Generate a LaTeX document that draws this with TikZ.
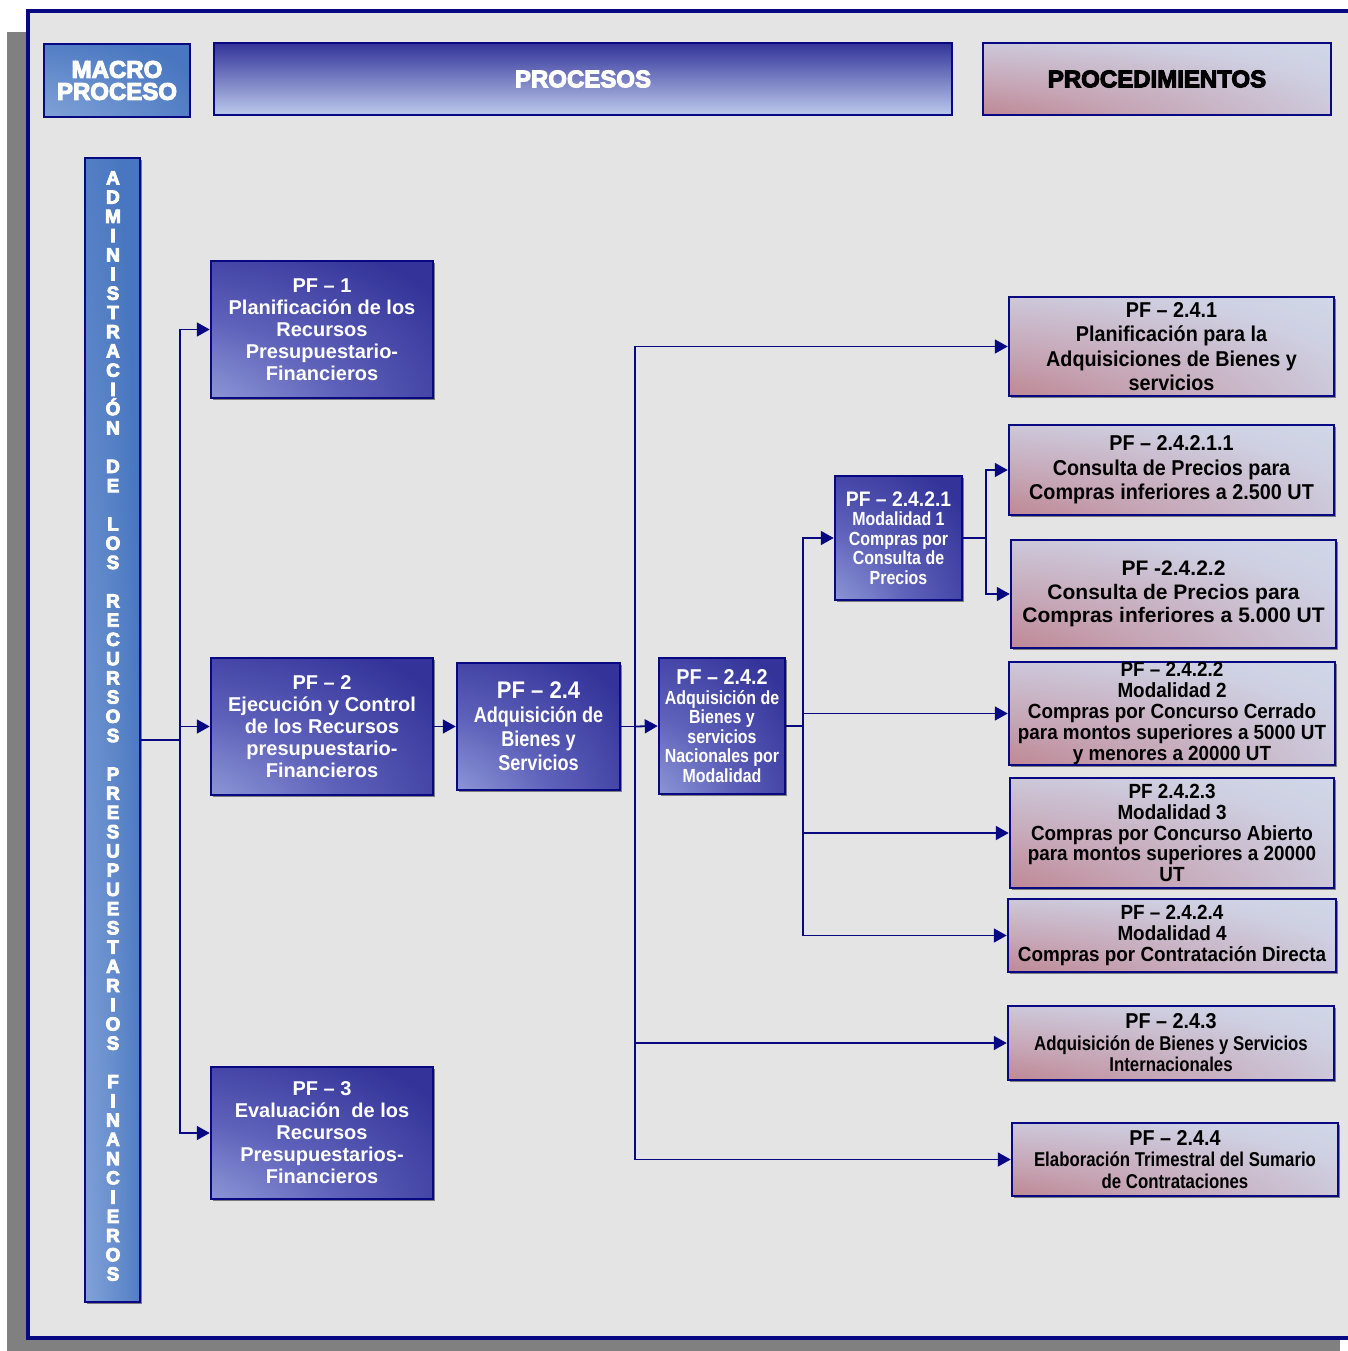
\documentclass[tikz,border=0pt]{standalone}
\usepackage{fontspec}
\setmainfont{Liberation Sans}
\newfontfamily\fA{Liberation Sans}
\newfontfamily\fB[FakeStretch=0.92]{Liberation Sans}
\newfontfamily\fC[FakeStretch=0.84]{Liberation Sans}
\newfontfamily\fH[UprightFeatures={FakeBold=4.5}, BoldFeatures={FakeBold=4.5}]{Liberation Sans}
\usetikzlibrary{arrows.meta,shadows}

\definecolor{navy}{RGB}{8,8,130}
\definecolor{bgc}{RGB}{228,228,228}
\definecolor{shd}{RGB}{128,128,128}
\definecolor{pfL}{RGB}{188,202,236}
\definecolor{pfM1}{RGB}{150,162,220}
\definecolor{pfM2}{RGB}{95,98,186}
\definecolor{pfD}{RGB}{51,51,153}
\definecolor{mbL}{RGB}{176,196,232}
\definecolor{mbM}{RGB}{120,155,212}
\definecolor{mbD}{RGB}{72,118,192}
\definecolor{prR}{RGB}{168,68,74}
\definecolor{prM1}{RGB}{186,116,126}
\definecolor{prM2}{RGB}{198,166,182}
\definecolor{prM3}{RGB}{206,208,226}
\definecolor{prL}{RGB}{210,222,238}

\pgfdeclareradialshading{pfshade}{\pgfpoint{-50bp}{-50bp}}{color(0bp)=(pfL); color(20bp)=(pfM1); color(42bp)=(pfM2); color(68bp)=(pfD); color(160bp)=(pfD)}
\pgfdeclareradialshading{mbshade}{\pgfpoint{-50bp}{-50bp}}{color(0bp)=(mbL); color(30bp)=(mbM); color(65bp)=(mbD); color(160bp)=(mbD)}
\pgfdeclareradialshading{prshade}{\pgfpoint{-50bp}{-50bp}}{color(0bp)=(prR); color(15bp)=(prM1); color(38bp)=(prM2); color(62bp)=(prM3); color(85bp)=(prL); color(160bp)=(prL)}

\tikzset{
  boxbase/.style={draw=navy, line width=2.5pt, inner sep=0pt, align=center,
    drop shadow={shadow xshift=1.5pt, shadow yshift=-2pt, fill=black, opacity=0.45}},
  hdrbox/.style={draw=navy, line width=2.5pt, inner sep=0pt, align=center,
    font=\fH\bfseries\fontsize{24}{22}\selectfont},
  pfbox/.style={boxbase, shading=pfshade, text=white},
  procbox/.style={boxbase, shading=prshade, text=black},
  pfbig/.style={font=\fA\bfseries\fontsize{20}{22}\selectfont},
  procfont/.style={font=\fB\bfseries\fontsize{21.5}{24.5}\selectfont},
  procsmall/.style={font=\fB\bfseries\fontsize{20.5}{20.8}\selectfont},
  procnarrow/.style={font=\fC\bfseries\fontsize{20}{21.5}\selectfont},
  conn/.style={draw=navy, line width=1.8pt},
  arr/.style={conn, -{Triangle[length=13pt,width=14pt]}},
}

\begin{document}
\begin{tikzpicture}[x=1pt,y=-1pt]
\useasboundingbox (0,0) rectangle (1347,1351);

% outer frame with shadow
\fill[shd] (7,32) rectangle (1340,1359);
\draw[navy, line width=4pt, fill=bgc] (28,11) rectangle (1361,1338);

% headers
\node[hdrbox, shading=mbshade, text=white, minimum width=146pt, minimum height=73pt] (macro) at (117,80.5) {MACRO\\PROCESO};
\node[hdrbox, top color=pfD, middle color=pfM2, bottom color=pfL, text=white, minimum width=738pt, minimum height=72pt] (procs) at (583,79) {PROCESOS};
\node[hdrbox, shading=prshade, text=black, minimum width=348pt, minimum height=72pt] (procd) at (1157,79) {PROCEDIMIENTOS};

% vertical bar
\node[boxbase, shading=mbshade, minimum width=55pt, minimum height=1144pt] (bar) at (112.5,730) {};
\node[text=white, align=center, inner sep=0pt, font=\fH\bfseries\fontsize{19}{19.23}\selectfont] (bartext) at (113,726)
{A\\D\\M\\I\\N\\I\\S\\T\\R\\A\\C\\I\\Ó\\N\\~\\D\\E\\~\\L\\O\\S\\~\\R\\E\\C\\U\\R\\S\\O\\S\\~\\P\\R\\E\\S\\U\\P\\U\\E\\S\\T\\A\\R\\I\\O\\S\\~\\F\\I\\N\\A\\N\\C\\I\\E\\R\\O\\S};

% process boxes
\node[pfbox, pfbig, minimum width=222pt, minimum height=137pt] (pf1) at (322,329.5)
 {PF – 1\\Planificación de los\\Recursos\\Presupuestario-\\Financieros};
\node[pfbox, pfbig, minimum width=222pt, minimum height=137pt] (pf2) at (322,726.5)
 {PF – 2\\Ejecución y Control\\de los Recursos\\presupuestario-\\Financieros};
\node[pfbox, pfbig, minimum width=222pt, minimum height=132pt] (pf3) at (322,1133)
 {PF – 3\\Evaluación\ \ de los\\Recursos\\Presupuestarios-\\Financieros};
\node[pfbox, font=\fC\bfseries\fontsize{21.5}{24}\selectfont, minimum width=163pt, minimum height=127pt] (pf24) at (538.5,726.5)
 {{\fB\fontsize{24}{24}\selectfont PF – 2.4}\\Adquisición de\\Bienes y\\Servicios};
\node[pfbox, font=\fC\bfseries\fontsize{19}{19.6}\selectfont, minimum width=126pt, minimum height=136pt] (pf242) at (722,726)
 {{\fB\fontsize{21.5}{19.6}\selectfont PF – 2.4.2}\\Adquisición de\\Bienes y\\servicios\\Nacionales por\\Modalidad};
\node[pfbox, font=\fC\bfseries\fontsize{19}{19.5}\selectfont, minimum width=127pt, minimum height=124pt] (pf2421) at (898.5,538)
 {{\fB\fontsize{21}{19.5}\selectfont PF – 2.4.2.1}\\Modalidad 1\\Compras por\\Consulta de\\Precios};

% procedure boxes
\node[procbox, procfont, minimum width=325pt, minimum height=99pt] (p241) at (1171.5,346.5)
 {PF – 2.4.1\\Planificación para la\\Adquisiciones de Bienes y\\servicios};
\node[procbox, procfont, minimum width=325pt, minimum height=90pt] (p24211) at (1171.5,470)
 {PF – 2.4.2.1.1\\Consulta de Precios para\\Compras inferiores a 2.500 UT};
\node[procbox, font=\fA\bfseries\fontsize{21}{23.5}\selectfont, minimum width=325pt, minimum height=108pt] (p2422) at (1173.5,594)
 {PF -2.4.2.2\\Consulta de Precios para\\Compras inferiores a 5.000 UT};
\node[procbox, procsmall, minimum width=326pt, minimum height=103pt] (p2422m) at (1172,713.5)
 {PF – 2.4.2.2\\Modalidad 2\\Compras por Concurso Cerrado\\para montos superiores a 5000 UT\\y menores a 20000 UT};
\node[procbox, procsmall, minimum width=324pt, minimum height=110pt] (p2423) at (1172,833)
 {PF 2.4.2.3\\Modalidad 3\\Compras por Concurso Abierto\\para montos superiores a 20000\\UT};
\node[procbox, procsmall, minimum width=328pt, minimum height=73pt] (p2424) at (1172,935.5)
 {PF – 2.4.2.4\\Modalidad 4\\Compras por Contratación Directa};
\node[procbox, procnarrow, minimum width=326pt, minimum height=74pt] (p243) at (1171,1043)
 {{\fB\fontsize{21.5}{21.5}\selectfont PF – 2.4.3}\\Adquisición de Bienes y Servicios\\Internacionales};
\node[procbox, procnarrow, minimum width=326pt, minimum height=73pt] (p244) at (1175,1159.5)
 {{\fB\fontsize{21.5}{21.5}\selectfont PF – 2.4.4}\\Elaboración Trimestral del Sumario\\de Contrataciones};

% junctions
\coordinate (j1) at (180,740);
\coordinate (j2) at (635,726.5);
\coordinate (j3) at (803,726);
\coordinate (j4) at (986,538);

% connectors
\draw[conn] (bar.east |- j1) -- (j1);
\draw[arr] (j1) |- (pf1.west);
\draw[arr] (j1) |- (pf2.west);
\draw[arr] (j1) |- (pf3.west);

\draw[arr] (pf2.east) -- (pf24.west);

\draw[conn] (pf24.east) -- (j2);
\draw[arr] (j2) -- (pf242.west);
\draw[arr] (j2) |- (p241.west);
\draw[arr] (j2) |- (p243.west);
\draw[arr] (j2) |- (p244.west);

\draw[conn] (pf242.east) -- (j3);
\draw[arr] (j3) |- (pf2421.west);
\draw[arr] (j3) |- (p2422m.west);
\draw[arr] (j3) |- (p2423.west);
\draw[arr] (j3) |- (p2424.west);

\draw[conn] (pf2421.east) -- (j4);
\draw[arr] (j4) |- (p24211.west);
\draw[arr] (j4) |- (p2422.west);
\end{tikzpicture}
\end{document}
